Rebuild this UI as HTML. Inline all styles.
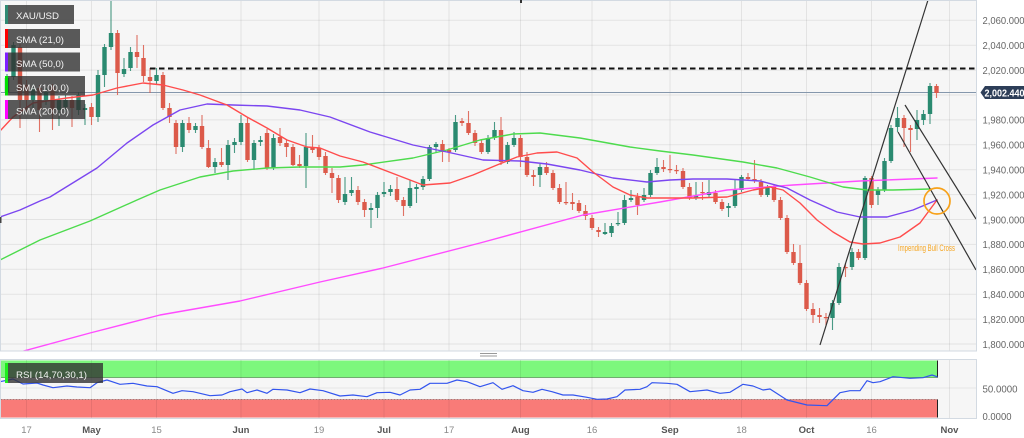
<!DOCTYPE html>
<html><head><meta charset="utf-8">
<style>
html,body{margin:0;padding:0;background:#fff;width:1024px;height:438px;overflow:hidden;}
svg{display:block;}
text{font-family:"Liberation Sans",Arial,sans-serif;}
</style></head>
<body>
<svg id="c" width="1024" height="438" viewBox="0 0 1024 438" xmlns="http://www.w3.org/2000/svg">
<defs><clipPath id="cp"><rect x="0" y="0" width="976" height="351"/></clipPath></defs>
<rect x="0" y="0" width="1024" height="438" fill="#fff"/>
<rect x="0" y="0" width="976.5" height="351" fill="#f6f6f6"/>
<rect x="0" y="359.5" width="976.5" height="59" fill="#f6f6f6"/>
<!-- RSI bands -->
<rect x="0.5" y="360.5" width="937" height="17" fill="#7df77d"/>
<line x1="0.5" y1="377.5" x2="937.5" y2="377.5" stroke="#3f7a3f" stroke-opacity="0.6"/>
<rect x="0.5" y="399.5" width="937" height="18" fill="#f97b78"/>
<line x1="0.5" y1="399.5" x2="937.5" y2="399.5" stroke="#7a4a4a" stroke-opacity="0.6" stroke-dasharray="2,1"/>
<line x1="937.5" y1="360.5" x2="937.5" y2="377.5" stroke="#222"/>
<line x1="937.5" y1="399.5" x2="937.5" y2="417.5" stroke="#222"/>
<g id="grid"></g>
<line x1="0" y1="92.5" x2="976" y2="92.5" stroke="#8597ac" stroke-width="1"/>
<g id="plot" clip-path="url(#cp)"></g>
<g clip-path="url(#cp)">
<line x1="150" y1="68.5" x2="975" y2="68.5" stroke="#111" stroke-width="2" stroke-dasharray="5.5,3.5"/>
<line x1="820" y1="345" x2="928" y2="0" stroke="#333" stroke-width="1.2"/>
<line x1="905" y1="105" x2="976" y2="219" stroke="#333" stroke-width="1.2"/>
<line x1="898" y1="132" x2="976" y2="270" stroke="#333" stroke-width="1.2"/>
<circle cx="937" cy="201" r="13" fill="none" stroke="#f7a21b" stroke-width="1.7"/>
<text x="898" y="251" font-size="9.5" fill="#f5a623" textLength="57" lengthAdjust="spacingAndGlyphs">Impending Bull Cross</text>
</g>
<!-- legend boxes -->
<rect x="5" y="5" width="69" height="19" fill="rgba(50,50,50,0.8)"/>
<rect x="5" y="5" width="3" height="19" fill="#2f8a73"/>
<text x="16" y="19" font-size="9.5" fill="#f4f4f4" textLength="43" lengthAdjust="spacingAndGlyphs">XAU/USD</text>
<rect x="5" y="29" width="75" height="19" fill="rgba(50,50,50,0.8)"/>
<rect x="5" y="29" width="3" height="19" fill="#ff0000"/>
<text x="16" y="43" font-size="9.5" fill="#f4f4f4" textLength="48" lengthAdjust="spacingAndGlyphs">SMA (21,0)</text>
<rect x="5" y="52.5" width="75" height="19" fill="rgba(50,50,50,0.8)"/>
<rect x="5" y="52.5" width="3" height="19" fill="#7f1fff"/>
<text x="16" y="67" font-size="9.5" fill="#f4f4f4" textLength="48" lengthAdjust="spacingAndGlyphs">SMA (50,0)</text>
<rect x="5" y="76" width="80" height="19.5" fill="rgba(50,50,50,0.8)"/>
<rect x="5" y="76" width="3" height="19.5" fill="#00e000"/>
<text x="16" y="91" font-size="9.5" fill="#f4f4f4" textLength="53" lengthAdjust="spacingAndGlyphs">SMA (100,0)</text>
<rect x="5" y="100" width="80" height="19" fill="rgba(50,50,50,0.8)"/>
<rect x="5" y="100" width="3" height="19" fill="#ff00ff"/>
<text x="16" y="114.5" font-size="9.5" fill="#f4f4f4" textLength="53" lengthAdjust="spacingAndGlyphs">SMA (200,0)</text>
<!-- RSI line -->
<g id="rsi"></g>
<rect x="5" y="363" width="98" height="20" fill="rgba(50,50,50,0.8)"/>
<rect x="5" y="363" width="3" height="20" fill="#1fee1f"/>
<text x="16" y="378" font-size="9.5" fill="#f4f4f4" textLength="71" lengthAdjust="spacingAndGlyphs">RSI (14,70,30,1)</text>
<!-- panel borders -->
<rect x="0.5" y="0.5" width="976" height="350.5" fill="none" stroke="#d3dae2"/>
<rect x="0.5" y="359.5" width="976" height="59" fill="none" stroke="#d3dae2"/>
<rect x="0" y="217" width="1.5" height="6" fill="#444"/>
<rect x="520" y="0" width="2" height="3" fill="#333"/>
<line x1="480" y1="353.5" x2="497" y2="353.5" stroke="#999"/>
<line x1="480" y1="356" x2="497" y2="356" stroke="#999"/>
<!-- y axis labels -->
<g font-size="10.5" fill="#666">
<text x="982.5" y="24.1" textLength="42" lengthAdjust="spacingAndGlyphs">2,060.000</text>
<text x="982.5" y="49" textLength="42" lengthAdjust="spacingAndGlyphs">2,040.000</text>
<text x="982.5" y="73.9" textLength="42" lengthAdjust="spacingAndGlyphs">2,020.000</text>
<text x="982.5" y="123.7" textLength="42" lengthAdjust="spacingAndGlyphs">1,980.000</text>
<text x="982.5" y="148.6" textLength="42" lengthAdjust="spacingAndGlyphs">1,960.000</text>
<text x="982.5" y="173.5" textLength="42" lengthAdjust="spacingAndGlyphs">1,940.000</text>
<text x="982.5" y="198.4" textLength="42" lengthAdjust="spacingAndGlyphs">1,920.000</text>
<text x="982.5" y="223.3" textLength="42" lengthAdjust="spacingAndGlyphs">1,900.000</text>
<text x="982.5" y="248.2" textLength="42" lengthAdjust="spacingAndGlyphs">1,880.000</text>
<text x="982.5" y="273.1" textLength="42" lengthAdjust="spacingAndGlyphs">1,860.000</text>
<text x="982.5" y="298" textLength="42" lengthAdjust="spacingAndGlyphs">1,840.000</text>
<text x="982.5" y="322.9" textLength="42" lengthAdjust="spacingAndGlyphs">1,820.000</text>
<text x="982.5" y="347.8" textLength="42" lengthAdjust="spacingAndGlyphs">1,800.000</text>
<text x="982.5" y="392.5" textLength="35" lengthAdjust="spacingAndGlyphs">50.0000</text>
<text x="982.5" y="420" textLength="29" lengthAdjust="spacingAndGlyphs">0.0000</text>
</g>
<polygon points="980.5,92.5 985,86 1024,86 1024,99 985,99" fill="#2d3e58"/>
<text x="984.5" y="96.5" font-size="10" font-weight="bold" fill="#fff" textLength="40" lengthAdjust="spacingAndGlyphs">2,002.440</text>
<!-- x axis labels -->
<g font-size="9.5" text-anchor="middle">
<text x="26.5" y="433" fill="#888">17</text>
<text x="91.5" y="433" fill="#555" font-weight="bold">May</text>
<text x="156.5" y="433" fill="#888">15</text>
<text x="241" y="433" fill="#555" font-weight="bold">Jun</text>
<text x="319" y="433" fill="#888">19</text>
<text x="384" y="433" fill="#555" font-weight="bold">Jul</text>
<text x="449" y="433" fill="#888">17</text>
<text x="520.5" y="433" fill="#555" font-weight="bold">Aug</text>
<text x="592" y="433" fill="#888">16</text>
<text x="670" y="433" fill="#555" font-weight="bold">Sep</text>
<text x="741.5" y="433" fill="#888">18</text>
<text x="806.5" y="433" fill="#555" font-weight="bold">Oct</text>
<text x="871.5" y="433" fill="#888">16</text>
<text x="949.5" y="433" fill="#555" font-weight="bold">Nov</text>
</g>
</svg>
<script>
(function(){
var NS="http://www.w3.org/2000/svg";
function el(t,a,p){var e=document.createElementNS(NS,t);for(var k in a)e.setAttribute(k,a[k]);p.appendChild(e);return e;}
var grid=document.getElementById('grid');
var gx=[3,13,23,36,48,58,68,79,90,102,113,123,133,145];
gx.forEach(function(n){var x=7+6.5*n;
 el('line',{x1:x,x2:x,y1:1,y2:351,stroke:'#000','stroke-opacity':0.075},grid);
 el('line',{x1:x,x2:x,y1:360,y2:418,stroke:'#000','stroke-opacity':0.075},grid);});
for(var k=0;k<14;k++){var y=20.3+24.9*k;el('line',{x1:0,x2:976,y1:y,y2:y,stroke:'#000','stroke-opacity':0.075},grid);}
el('line',{x1:0,x2:976,y1:388,y2:388,stroke:'#000','stroke-opacity':0.06},grid);
var plot=document.getElementById('plot');
var C=[
78,92,74,95,1, 45,77,42,80,1, 47,100,44,128,0, 85,100,80,112,0, 88,100,84,108,1,
88,110,85,132,0, 92,100,88,105,1, 87,110,84,130,0, 100,110,96,126,1, 100,107,95,112,1,
100,108,96,127,0, 95,110,92,115,1, 108,110,104,125,1, 107,117,103,125,0, 75,117,70,122,1,
47,75,44,87,1, 33,47,0,50,1, 33,73,30,95,0, 69,74,58,77,1, 52,68,47,71,1,
52,57,35,68,0, 58,76,45,82,0, 77,81,68,93,0, 75,81,68,84,1, 75,108,72,110,0,
108,117,103,123,0, 123,147,120,154,0, 123,147,120,152,1, 123,130,117,133,0, 126,130,123,133,1,
126,147,115,149,0, 148,167,140,168,0, 162,167,158,173,1, 162,165,148,167,0, 145,165,140,180,1,
142,145,138,153,1, 123,142,115,145,1, 123,160,117,162,0, 143,160,140,170,1, 140,142,136,146,1,
133,168,129,170,0, 138,168,134,170,1, 137,143,128,146,0, 143,147,139,157,0, 147,165,144,166,0,
164,166,155,168,0, 147,166,133,188,1, 147,150,135,153,0, 148,157,145,160,0, 156,173,152,175,0,
173,178,168,193,0, 178,200,175,203,0, 194,202,177,205,1, 190,193,177,196,1, 190,202,186,205,0,
202,210,199,217,0, 208,210,203,228,1, 195,208,192,218,1, 192,194,182,197,1, 189,192,185,196,1,
189,200,177,202,0, 200,206,197,216,0, 188,206,180,208,1, 187,189,184,203,1, 179,187,176,190,1,
147,179,145,181,1, 144,147,142,152,1, 144,152,140,162,0, 150,152,148,162,0, 122,150,115,152,1,
121,123,118,126,0, 123,133,111,135,0, 133,143,130,146,0, 143,152,140,154,0, 138,152,135,154,1,
130,138,122,140,1, 130,162,117,165,0, 145,162,142,164,1, 138,145,132,147,1, 138,157,135,167,0,
157,175,152,177,0, 175,177,170,186,0, 167,175,164,187,1, 167,173,162,175,0, 173,188,170,190,0,
188,202,184,204,0, 202,203,182,205,0, 202,204,193,210,0, 203,211,200,213,0, 211,216,205,220,0,
218,228,215,230,0, 230,232,227,237,0, 232,234,223,235,1, 226,233,223,237,1, 223,224,212,226,1,
200,223,195,225,1, 198,200,190,202,1, 197,205,193,215,0, 195,200,188,202,1, 173,195,170,197,1,
167,173,158,175,1, 167,169,160,172,0, 169,170,155,173,0, 170,171,165,174,0, 171,187,168,189,0,
187,198,183,200,0, 196,198,182,200,1, 192,193,182,200,0, 192,195,180,197,1, 193,202,190,204,0,
202,209,199,211,0, 206,208,203,217,1, 190,206,180,208,1, 177,190,175,192,1, 177,179,173,181,0,
179,181,160,183,0, 182,195,179,197,0, 188,195,185,197,1, 187,200,184,202,0, 200,218,197,220,0,
218,252,215,254,0, 252,263,244,265,0, 263,283,245,285,0, 283,309,280,311,0, 309,315,303,323,0,
315,317,308,323,0, 317,318,313,325,0, 303,318,300,330,1, 267,303,263,305,1, 267,268,263,277,0,
252,267,248,270,1, 252,258,249,260,0, 178,258,176,260,1, 178,205,176,208,0, 190,195,187,205,1,
161,190,158,192,1, 128,161,125,163,1, 118,127,107,132,1, 118,128,115,147,0, 128,130,125,152,0,
120,129,110,140,1, 114,120,110,125,1, 86,114,83,124,1, 86,93,84,98,0
];
var cg=el('g',{},plot);
for(var i=0;i*5<C.length;i++){
 var t=C[i*5],b=C[i*5+1],h=C[i*5+2],l=C[i*5+3],g=C[i*5+4];
 var x=7+6.5*i,col=g?'#2a8a70':'#dc5a4a';
 el('line',{x1:x,x2:x,y1:h,y2:l,stroke:col,'stroke-width':1.1,'stroke-opacity':0.85},cg);
 el('rect',{x:x-2.2,y:t,width:4.4,height:Math.max(1.2,b-t),fill:col},cg);
}
function pl(pts,col,w,p){el('polyline',{points:pts,fill:'none',stroke:col,'stroke-width':w,'stroke-linejoin':'round','stroke-linecap':'round'},p);}
pl("0,357 20,352 90,333 160,315 240,301 320,282 383,268 480,243 583,215 660,202 727,190 793,185 860,181 937,178","#ff4cff",1.4,plot);
pl("0,260 40,240 90,221 137,200 160,190 200,177 233,171 267,168 300,167 340,167 363,165 413,158 447,150 480,140 513,134 540,133 580,138 630,147 660,151 693,155 743,162 777,168 810,177 843,187 867,190 893,190 930,189","#4ddb4d",1.4,plot);
pl("0,217 20,210 40,201 50,197 97,168 127,143 153,125 180,110 207,104 233,105 267,106 300,110 330,117 370,132 413,145 447,152 483,160 520,161 547,164 580,170 613,178 647,182 670,180 693,179 727,179 760,181 787,188 810,200 837,212 860,217 887,217 913,210 937,200","#7b46f0",1.4,plot);
pl("0,131 13,117 33,103 67,98 93,95 117,88 143,83 163,85 183,90 200,95 227,105 247,117 267,128 287,140 307,147 320,148 330,152 340,156 363,162 397,175 423,185 450,183 473,175 497,165 517,157 537,153 557,152 577,158 593,172 613,187 630,195 647,198 670,198 693,198 727,197 753,190 770,187 783,190 800,203 817,220 833,232 850,242 863,244 880,243 900,237 920,223 937,200","#ff4c4c",1.4,plot);
pl("0,381.7 13,379 23,384 37,383 43,385 53,387.7 67,386 77,387 90,387.7 97,382.7 107,380 120,384.3 133,383.3 147,386 157,386.7 173,393.3 182,390.7 193,391.7 210,395.7 222,395 230,391.7 242,389 247,392.7 257,390 267,393.3 273,389.3 287,390 300,392.7 310,389 323,390.7 340,396 353,395 367,396.7 377,392.7 390,392.3 400,395 410,390 420,389.3 430,383.3 447,383.3 457,380 467,381.7 480,386.7 493,382.7 502,389.3 513,385.7 523,390.7 533,392.3 542,389.3 552,391.7 563,395 573,395 587,397.3 597,399.3 607,399 617,396.7 625,390 640,389.3 647,386.7 652,382.7 667,383.3 677,384.3 690,391.7 707,390 720,393.3 730,392.3 743,384.3 753,386 763,390 770,389 787,400 807,405 827,405.7 840,392.7 850,390.7 860,390.7 867,380.7 873,382.7 880,381.7 893,376.7 910,378.3 923,377.7 932,375 937,376.7","#3355ee",1.2,document.getElementById('rsi'));
})();
</script>
</body></html>
